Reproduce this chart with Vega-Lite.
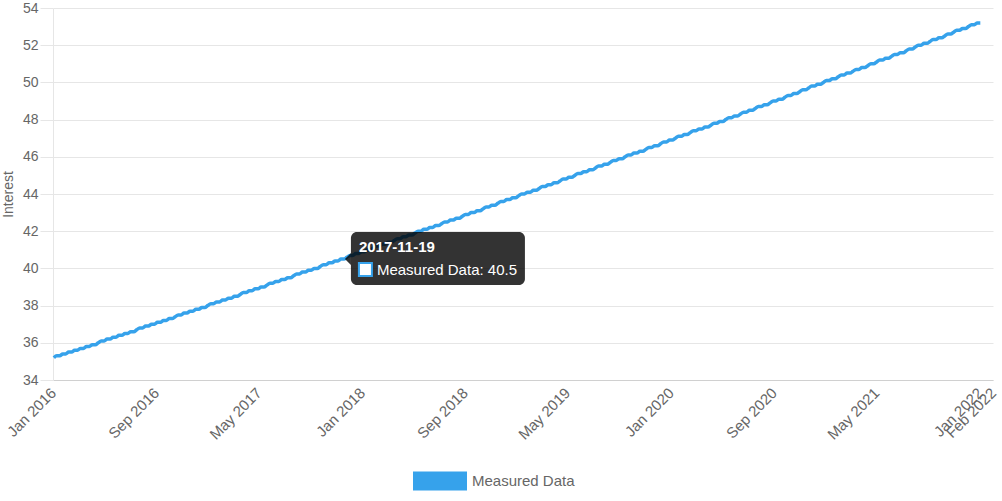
{
"$schema": "https://vega.github.io/schema/vega-lite/v6.json",
"width": 940,
"height": 372,
"autosize": {"type": "none"},
"padding": {"left": 53, "top": 8, "right": 9, "bottom": 121},
"background": "white",
"config": {"view": {"stroke": null}, "font": "Liberation Sans", "text": {"font": "Liberation Sans"}},
"encoding": {
  "x": {"field": "d", "type": "temporal",
    "scale": {"type": "utc", "domain": [{"year": 2016, "month": 1, "date": 1, "utc": true}, {"year": 2022, "month": 2, "date": 1, "utc": true}]},
    "axis": {"title": null, "grid": false, "ticks": false, "tickSize": 0, "domainColor": "#d0d0d0", "labelAngle": -45, "labelAlign": "right", "labelBaseline": "middle", "labelPadding": 10, "labelColor": "#666666", "labelFontSize": 15, "labelFont": "Liberation Sans", "labelOverlap": false, "labelFlush": false, "labelBound": false, "format": "%b %Y",
      "values": [{"year": 2016, "month": 1, "date": 1, "utc": true}, {"year": 2016, "month": 9, "date": 1, "utc": true}, {"year": 2017, "month": 5, "date": 1, "utc": true}, {"year": 2018, "month": 1, "date": 1, "utc": true}, {"year": 2018, "month": 9, "date": 1, "utc": true}, {"year": 2019, "month": 5, "date": 1, "utc": true}, {"year": 2020, "month": 1, "date": 1, "utc": true}, {"year": 2020, "month": 9, "date": 1, "utc": true}, {"year": 2021, "month": 5, "date": 1, "utc": true}, {"year": 2022, "month": 1, "date": 1, "utc": true}, {"year": 2022, "month": 2, "date": 1, "utc": true}]}},
  "y": {"field": "v", "type": "quantitative",
    "scale": {"domain": [34, 54], "nice": false, "zero": false},
    "axis": {"title": "Interest", "titleColor": "#666666", "titleFontSize": 14, "titleFontWeight": "normal", "titleFont": "Liberation Sans", "titlePadding": 7, "values": [34, 36, 38, 40, 42, 44, 46, 48, 50, 52, 54], "grid": true, "gridColor": "#e6e6e6", "domainColor": "#e6e6e6", "tickColor": "#e6e6e6", "tickSize": 13, "labelPadding": 2, "labelColor": "#666666", "labelFontSize": 14, "labelFont": "Liberation Sans", "labelFlush": false, "labelBound": false, "labelOverlap": false}}
},
"layer": [
{
"data": {"values": [
{"d":"2016-01-03","v":35.2},{"d":"2016-01-10","v":35.3},{"d":"2016-01-17","v":35.3},{"d":"2016-01-24","v":35.4},{"d":"2016-01-31","v":35.4},
{"d":"2016-02-07","v":35.5},{"d":"2016-02-14","v":35.5},{"d":"2016-02-21","v":35.6},{"d":"2016-02-28","v":35.6},
{"d":"2016-03-06","v":35.7},{"d":"2016-03-13","v":35.7},{"d":"2016-03-20","v":35.8},{"d":"2016-03-27","v":35.8},
{"d":"2016-04-03","v":35.9},{"d":"2016-04-10","v":35.9},{"d":"2016-04-17","v":36.0},{"d":"2016-04-24","v":36.1},
{"d":"2016-05-01","v":36.1},{"d":"2016-05-08","v":36.2},{"d":"2016-05-15","v":36.2},{"d":"2016-05-22","v":36.3},{"d":"2016-05-29","v":36.3},
{"d":"2016-06-05","v":36.4},{"d":"2016-06-12","v":36.4},{"d":"2016-06-19","v":36.5},{"d":"2016-06-26","v":36.5},
{"d":"2016-07-03","v":36.6},{"d":"2016-07-10","v":36.6},{"d":"2016-07-17","v":36.7},{"d":"2016-07-24","v":36.8},{"d":"2016-07-31","v":36.8},
{"d":"2016-08-07","v":36.9},{"d":"2016-08-14","v":36.9},{"d":"2016-08-21","v":37.0},{"d":"2016-08-28","v":37.0},
{"d":"2016-09-04","v":37.1},{"d":"2016-09-11","v":37.1},{"d":"2016-09-18","v":37.2},{"d":"2016-09-25","v":37.2},
{"d":"2016-10-02","v":37.3},{"d":"2016-10-09","v":37.3},{"d":"2016-10-16","v":37.4},{"d":"2016-10-23","v":37.5},{"d":"2016-10-30","v":37.5},
{"d":"2016-11-06","v":37.6},{"d":"2016-11-13","v":37.6},{"d":"2016-11-20","v":37.7},{"d":"2016-11-27","v":37.7},
{"d":"2016-12-04","v":37.8},{"d":"2016-12-11","v":37.8},{"d":"2016-12-18","v":37.9},{"d":"2016-12-25","v":37.9},
{"d":"2017-01-01","v":38.0},{"d":"2017-01-08","v":38.1},{"d":"2017-01-15","v":38.1},{"d":"2017-01-22","v":38.2},{"d":"2017-01-29","v":38.2},
{"d":"2017-02-05","v":38.3},{"d":"2017-02-12","v":38.3},{"d":"2017-02-19","v":38.4},{"d":"2017-02-26","v":38.4},
{"d":"2017-03-05","v":38.5},{"d":"2017-03-12","v":38.5},{"d":"2017-03-19","v":38.6},{"d":"2017-03-26","v":38.7},
{"d":"2017-04-02","v":38.7},{"d":"2017-04-09","v":38.8},{"d":"2017-04-16","v":38.8},{"d":"2017-04-23","v":38.9},{"d":"2017-04-30","v":38.9},
{"d":"2017-05-07","v":39.0},{"d":"2017-05-14","v":39.0},{"d":"2017-05-21","v":39.1},{"d":"2017-05-28","v":39.2},
{"d":"2017-06-04","v":39.2},{"d":"2017-06-11","v":39.3},{"d":"2017-06-18","v":39.3},{"d":"2017-06-25","v":39.4},
{"d":"2017-07-02","v":39.4},{"d":"2017-07-09","v":39.5},{"d":"2017-07-16","v":39.5},{"d":"2017-07-23","v":39.6},{"d":"2017-07-30","v":39.7},
{"d":"2017-08-06","v":39.7},{"d":"2017-08-13","v":39.8},{"d":"2017-08-20","v":39.8},{"d":"2017-08-27","v":39.9},
{"d":"2017-09-03","v":39.9},{"d":"2017-09-10","v":40.0},{"d":"2017-09-17","v":40.0},{"d":"2017-09-24","v":40.1},
{"d":"2017-10-01","v":40.2},{"d":"2017-10-08","v":40.2},{"d":"2017-10-15","v":40.3},{"d":"2017-10-22","v":40.3},{"d":"2017-10-29","v":40.4},
{"d":"2017-11-05","v":40.4},{"d":"2017-11-12","v":40.5},{"d":"2017-11-19","v":40.5},{"d":"2017-11-26","v":40.6},
{"d":"2017-12-03","v":40.7},{"d":"2017-12-10","v":40.7},{"d":"2017-12-17","v":40.8},{"d":"2017-12-24","v":40.8},{"d":"2017-12-31","v":40.9},
{"d":"2018-01-07","v":40.9},{"d":"2018-01-14","v":41.0},{"d":"2018-01-21","v":41.0},{"d":"2018-01-28","v":41.1},
{"d":"2018-02-04","v":41.2},{"d":"2018-02-11","v":41.2},{"d":"2018-02-18","v":41.3},{"d":"2018-02-25","v":41.3},
{"d":"2018-03-04","v":41.4},{"d":"2018-03-11","v":41.4},{"d":"2018-03-18","v":41.5},{"d":"2018-03-25","v":41.6},
{"d":"2018-04-01","v":41.6},{"d":"2018-04-08","v":41.7},{"d":"2018-04-15","v":41.7},{"d":"2018-04-22","v":41.8},{"d":"2018-04-29","v":41.8},
{"d":"2018-05-06","v":41.9},{"d":"2018-05-13","v":42.0},{"d":"2018-05-20","v":42.0},{"d":"2018-05-27","v":42.1},
{"d":"2018-06-03","v":42.1},{"d":"2018-06-10","v":42.2},{"d":"2018-06-17","v":42.2},{"d":"2018-06-24","v":42.3},
{"d":"2018-07-01","v":42.3},{"d":"2018-07-08","v":42.4},{"d":"2018-07-15","v":42.5},{"d":"2018-07-22","v":42.5},{"d":"2018-07-29","v":42.6},
{"d":"2018-08-05","v":42.6},{"d":"2018-08-12","v":42.7},{"d":"2018-08-19","v":42.7},{"d":"2018-08-26","v":42.8},
{"d":"2018-09-02","v":42.9},{"d":"2018-09-09","v":42.9},{"d":"2018-09-16","v":43.0},{"d":"2018-09-23","v":43.0},{"d":"2018-09-30","v":43.1},
{"d":"2018-10-07","v":43.1},{"d":"2018-10-14","v":43.2},{"d":"2018-10-21","v":43.3},{"d":"2018-10-28","v":43.3},
{"d":"2018-11-04","v":43.4},{"d":"2018-11-11","v":43.4},{"d":"2018-11-18","v":43.5},{"d":"2018-11-25","v":43.6},
{"d":"2018-12-02","v":43.6},{"d":"2018-12-09","v":43.7},{"d":"2018-12-16","v":43.7},{"d":"2018-12-23","v":43.8},{"d":"2018-12-30","v":43.8},
{"d":"2019-01-06","v":43.9},{"d":"2019-01-13","v":44.0},{"d":"2019-01-20","v":44.0},{"d":"2019-01-27","v":44.1},
{"d":"2019-02-03","v":44.1},{"d":"2019-02-10","v":44.2},{"d":"2019-02-17","v":44.2},{"d":"2019-02-24","v":44.3},
{"d":"2019-03-03","v":44.4},{"d":"2019-03-10","v":44.4},{"d":"2019-03-17","v":44.5},{"d":"2019-03-24","v":44.5},{"d":"2019-03-31","v":44.6},
{"d":"2019-04-07","v":44.6},{"d":"2019-04-14","v":44.7},{"d":"2019-04-21","v":44.8},{"d":"2019-04-28","v":44.8},
{"d":"2019-05-05","v":44.9},{"d":"2019-05-12","v":44.9},{"d":"2019-05-19","v":45.0},{"d":"2019-05-26","v":45.1},
{"d":"2019-06-02","v":45.1},{"d":"2019-06-09","v":45.2},{"d":"2019-06-16","v":45.2},{"d":"2019-06-23","v":45.3},{"d":"2019-06-30","v":45.3},
{"d":"2019-07-07","v":45.4},{"d":"2019-07-14","v":45.5},{"d":"2019-07-21","v":45.5},{"d":"2019-07-28","v":45.6},
{"d":"2019-08-04","v":45.6},{"d":"2019-08-11","v":45.7},{"d":"2019-08-18","v":45.8},{"d":"2019-08-25","v":45.8},
{"d":"2019-09-01","v":45.9},{"d":"2019-09-08","v":45.9},{"d":"2019-09-15","v":46.0},{"d":"2019-09-22","v":46.1},{"d":"2019-09-29","v":46.1},
{"d":"2019-10-06","v":46.2},{"d":"2019-10-13","v":46.2},{"d":"2019-10-20","v":46.3},{"d":"2019-10-27","v":46.3},
{"d":"2019-11-03","v":46.4},{"d":"2019-11-10","v":46.5},{"d":"2019-11-17","v":46.5},{"d":"2019-11-24","v":46.6},
{"d":"2019-12-01","v":46.6},{"d":"2019-12-08","v":46.7},{"d":"2019-12-15","v":46.8},{"d":"2019-12-22","v":46.8},{"d":"2019-12-29","v":46.9},
{"d":"2020-01-05","v":46.9},{"d":"2020-01-12","v":47.0},{"d":"2020-01-19","v":47.1},{"d":"2020-01-26","v":47.1},
{"d":"2020-02-02","v":47.2},{"d":"2020-02-09","v":47.2},{"d":"2020-02-16","v":47.3},{"d":"2020-02-23","v":47.4},
{"d":"2020-03-01","v":47.4},{"d":"2020-03-08","v":47.5},{"d":"2020-03-15","v":47.5},{"d":"2020-03-22","v":47.6},{"d":"2020-03-29","v":47.6},
{"d":"2020-04-05","v":47.7},{"d":"2020-04-12","v":47.8},{"d":"2020-04-19","v":47.8},{"d":"2020-04-26","v":47.9},
{"d":"2020-05-03","v":47.9},{"d":"2020-05-10","v":48.0},{"d":"2020-05-17","v":48.1},{"d":"2020-05-24","v":48.1},{"d":"2020-05-31","v":48.2},
{"d":"2020-06-07","v":48.2},{"d":"2020-06-14","v":48.3},{"d":"2020-06-21","v":48.4},{"d":"2020-06-28","v":48.4},
{"d":"2020-07-05","v":48.5},{"d":"2020-07-12","v":48.5},{"d":"2020-07-19","v":48.6},{"d":"2020-07-26","v":48.7},
{"d":"2020-08-02","v":48.7},{"d":"2020-08-09","v":48.8},{"d":"2020-08-16","v":48.8},{"d":"2020-08-23","v":48.9},{"d":"2020-08-30","v":49.0},
{"d":"2020-09-06","v":49.0},{"d":"2020-09-13","v":49.1},{"d":"2020-09-20","v":49.1},{"d":"2020-09-27","v":49.2},
{"d":"2020-10-04","v":49.3},{"d":"2020-10-11","v":49.3},{"d":"2020-10-18","v":49.4},{"d":"2020-10-25","v":49.4},
{"d":"2020-11-01","v":49.5},{"d":"2020-11-08","v":49.6},{"d":"2020-11-15","v":49.6},{"d":"2020-11-22","v":49.7},{"d":"2020-11-29","v":49.8},
{"d":"2020-12-06","v":49.8},{"d":"2020-12-13","v":49.9},{"d":"2020-12-20","v":49.9},{"d":"2020-12-27","v":50.0},
{"d":"2021-01-03","v":50.1},{"d":"2021-01-10","v":50.1},{"d":"2021-01-17","v":50.2},{"d":"2021-01-24","v":50.2},{"d":"2021-01-31","v":50.3},
{"d":"2021-02-07","v":50.4},{"d":"2021-02-14","v":50.4},{"d":"2021-02-21","v":50.5},{"d":"2021-02-28","v":50.5},
{"d":"2021-03-07","v":50.6},{"d":"2021-03-14","v":50.7},{"d":"2021-03-21","v":50.7},{"d":"2021-03-28","v":50.8},
{"d":"2021-04-04","v":50.8},{"d":"2021-04-11","v":50.9},{"d":"2021-04-18","v":51.0},{"d":"2021-04-25","v":51.0},
{"d":"2021-05-02","v":51.1},{"d":"2021-05-09","v":51.2},{"d":"2021-05-16","v":51.2},{"d":"2021-05-23","v":51.3},{"d":"2021-05-30","v":51.3},
{"d":"2021-06-06","v":51.4},{"d":"2021-06-13","v":51.5},{"d":"2021-06-20","v":51.5},{"d":"2021-06-27","v":51.6},
{"d":"2021-07-04","v":51.6},{"d":"2021-07-11","v":51.7},{"d":"2021-07-18","v":51.8},{"d":"2021-07-25","v":51.8},
{"d":"2021-08-01","v":51.9},{"d":"2021-08-08","v":52.0},{"d":"2021-08-15","v":52.0},{"d":"2021-08-22","v":52.1},{"d":"2021-08-29","v":52.1},
{"d":"2021-09-05","v":52.2},{"d":"2021-09-12","v":52.3},{"d":"2021-09-19","v":52.3},{"d":"2021-09-26","v":52.4},
{"d":"2021-10-03","v":52.4},{"d":"2021-10-10","v":52.5},{"d":"2021-10-17","v":52.6},{"d":"2021-10-24","v":52.6},{"d":"2021-10-31","v":52.7},
{"d":"2021-11-07","v":52.8},{"d":"2021-11-14","v":52.8},{"d":"2021-11-21","v":52.9},{"d":"2021-11-28","v":52.9},
{"d":"2021-12-05","v":53.0},{"d":"2021-12-12","v":53.1},{"d":"2021-12-19","v":53.1},{"d":"2021-12-26","v":53.2},
{"d":"2022-01-02","v":53.2}
]},
"mark": {"type": "line", "strokeWidth": 3.5, "interpolate": "monotone"},
"encoding": {
  "color": {"datum": "Measured Data", "type": "nominal", "scale": {"range": ["#36A2EB"]},
    "legend": {"orient": "none", "legendX": 360, "legendY": 446, "title": null, "padding": 0, "labelFontSize": 15, "labelColor": "#666666", "labelFont": "Liberation Sans", "labelOffset": 5, "symbolSize": 2916, "symbolType": "M-1,-0.35H1V0.35H-1Z", "symbolFillColor": "#36A2EB", "symbolStrokeColor": "#36A2EB", "symbolStrokeWidth": 0, "symbolOpacity": 1,
      "encode": {"symbols": {"update": {"fill": {"value": "#36A2EB"}, "stroke": {"value": "#36A2EB"}, "strokeWidth": {"value": 0}, "opacity": {"value": 1}}}}}}
}
},
{
"data": {"values": [{"d": "2017-11-19", "v": 40.5, "t": "2017-11-19", "b": "Measured Data: 40.5"}]},
"layer": [
  {"mark": {"type": "rect", "color": "black", "opacity": 0.8, "cornerRadius": 6, "xOffset": 7, "x2Offset": 181, "yOffset": -27, "y2Offset": 26},
   "encoding": {"x2": {"field": "d"}, "y2": {"field": "v"}}},
  {"mark": {"type": "point", "shape": "M-1,0L1,-2L1,2Z", "size": 36, "filled": true, "color": "black", "opacity": 0.8, "strokeWidth": 0, "xOffset": 4}},
  {"mark": {"type": "point", "shape": "square", "size": 169, "filled": true, "fill": "white", "stroke": "#36A2EB", "strokeWidth": 2, "opacity": 1, "xOffset": 21.5, "yOffset": 10.5}},
  {"mark": {"type": "text", "align": "left", "baseline": "alphabetic", "dx": 15, "dy": -7, "font": "Liberation Sans", "fontSize": 15, "fontWeight": "bold", "color": "white"},
   "encoding": {"text": {"field": "t"}}},
  {"mark": {"type": "text", "align": "left", "baseline": "alphabetic", "dx": 33, "dy": 16, "font": "Liberation Sans", "fontSize": 15, "color": "white"},
   "encoding": {"text": {"field": "b"}}}
]
}
]
}
